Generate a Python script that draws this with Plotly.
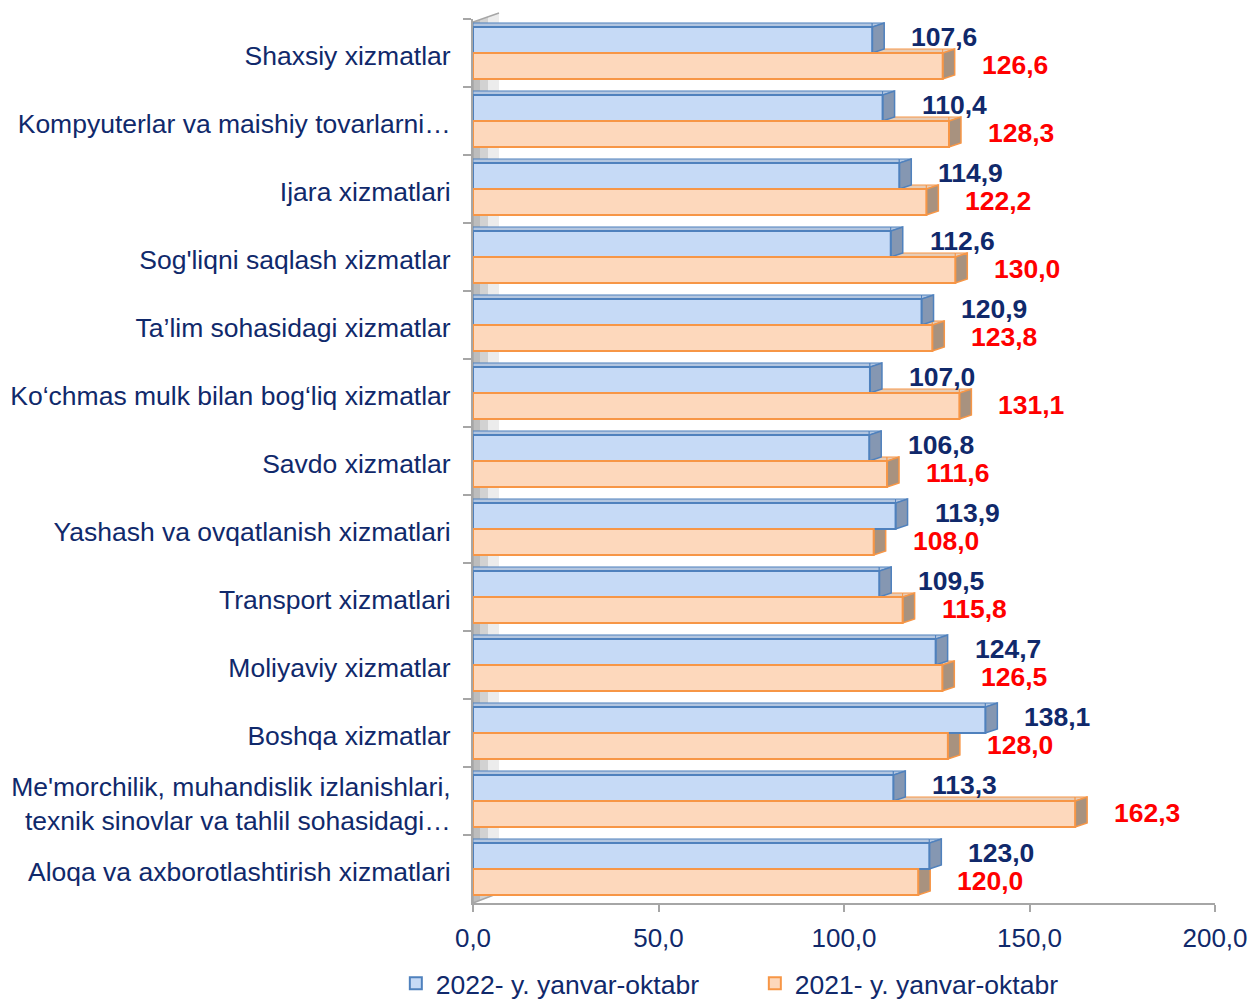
import plotly.graph_objects as go

categories = [
    "Shaxsiy xizmatlar",
    "Kompyuterlar va maishiy tovarlarni…",
    "Ijara xizmatlari",
    "Sog'liqni saqlash xizmatlar",
    "Ta’lim sohasidagi xizmatlar",
    "Ko‘chmas mulk bilan bog‘liq xizmatlar",
    "Savdo xizmatlar",
    "Yashash va ovqatlanish xizmatlari",
    "Transport xizmatlari",
    "Moliyaviy xizmatlar",
    "Boshqa xizmatlar",
    "Me'morchilik, muhandislik izlanishlari,<br>texnik sinovlar va tahlil sohasidagi…",
    "Aloqa va axborotlashtirish xizmatlari",
]
values_2022 = [107.6, 110.4, 114.9, 112.6, 120.9, 107.0, 106.8, 113.9, 109.5, 124.7, 138.1, 113.3, 123.0]
values_2021 = [126.6, 128.3, 122.2, 130.0, 123.8, 131.1, 111.6, 108.0, 115.8, 126.5, 128.0, 162.3, 120.0]
series_names = ["2022- y. yanvar-oktabr", "2021- y. yanvar-oktabr"]
x_ticks = [0, 50, 100, 150, 200]

NAVY = "#10296B"
RED = "#FF0000"
FONT = "Liberation Sans, Arial, sans-serif"

W, H = 1250, 992
M_L, M_R, M_T, M_B = 465, 43, 11, 97
BARGAP = 0.235
plot_h = H - M_T - M_B
band = plot_h / len(categories)
bh = band * (1 - BARGAP) / 2   # pixel thickness of one bar
DX, DY = 12, 4                  # 3-D depth

BLUE_FILL, BLUE_LINE, BLUE_TOP, BLUE_SIDE = "#C6DAF6", "#4F81BD", "#B3C6E0", "#8597B2"
ORNG_FILL, ORNG_LINE, ORNG_TOP, ORNG_SIDE = "#FDD8BC", "#F79646", "#E6CDB8", "#A8927F"

def fmt(v):
    return f"{v:.1f}".replace(".", ",")

fig = go.Figure()
fig.add_trace(go.Bar(
    y=categories, x=values_2022, orientation="h", name=series_names[0],
    marker=dict(color=BLUE_FILL, line=dict(color=BLUE_LINE, width=2)),
))
fig.add_trace(go.Bar(
    y=categories, x=values_2021, orientation="h", name=series_names[1],
    marker=dict(color=ORNG_FILL, line=dict(color=ORNG_LINE, width=2)),
))

# ---- 3-D decoration shapes ----
shapes = []
WALL_W, WALL_TOP_L, WALL_TOP_R, WALL_BOT_R = 26, plot_h - 3, plot_h + 6, 10
strips = [(0, 7, "#BDBDBD"), (7, 15, "#D2D2D2"), (15, 26, "#ECECEC")]
def wy_bot(x):
    return WALL_BOT_R * x / WALL_W
def wy_top(x):
    return WALL_TOP_L + (WALL_TOP_R - WALL_TOP_L) * x / WALL_W
for a, b, col in strips:
    path = (f"M{a},{wy_bot(a):.1f} L{a},{wy_top(a):.1f} L{b},{wy_top(b):.1f} "
            f"L{b},{wy_bot(b):.1f} Z")
    shapes.append(dict(type="path", xref="paper", yref="paper", xsizemode="pixel",
                       ysizemode="pixel", xanchor=0, yanchor=0, path=path,
                       fillcolor=col, line=dict(width=0), layer="below"))
shapes.append(dict(type="path", xref="paper", yref="paper", xsizemode="pixel",
                   ysizemode="pixel", xanchor=0, yanchor=0,
                   path=(f"M0,0 L0,{WALL_TOP_L:.1f} L{WALL_W},{WALL_TOP_R:.1f} "
                         f"M0,0 L{WALL_W},{WALL_BOT_R}"),
                   line=dict(color="#A6A6A6", width=1.5), layer="below"))

def bar_3d(i, v, y_lo, y_hi, top_col, side_col, line_col, x_start=0):
    out = []
    if v > x_start:
        out.append(dict(type="rect", xref="x", yref="y", x0=x_start, x1=v,
                        ysizemode="pixel", yanchor=i, y0=y_hi, y1=y_hi + DY,
                        fillcolor=top_col, line=dict(color=line_col, width=1), layer="below"))
    out.append(dict(type="path", xref="x", yref="y", xsizemode="pixel", ysizemode="pixel",
                    xanchor=v, yanchor=i,
                    path=f"M0,{y_hi:.1f} L{DX},{y_hi + DY:.1f} L0,{y_hi + DY:.1f} Z",
                    fillcolor=top_col, line=dict(color=line_col, width=1), layer="below"))
    out.append(dict(type="path", xref="x", yref="y", xsizemode="pixel", ysizemode="pixel",
                    xanchor=v, yanchor=i,
                    path=(f"M0,{y_lo:.1f} L0,{y_hi:.1f} L{DX},{y_hi + DY:.1f} "
                          f"L{DX},{y_lo + DY:.1f} Z"),
                    fillcolor=side_col, line=dict(color=line_col, width=1.5), layer="below"))
    return out

for i, (vb, vo) in enumerate(zip(values_2022, values_2021)):
    shapes += bar_3d(i, vo, -bh, 0, ORNG_TOP, ORNG_SIDE, ORNG_LINE, x_start=vb)
for i, vb in enumerate(values_2022):
    shapes += bar_3d(i, vb, 0, bh, BLUE_TOP, BLUE_SIDE, BLUE_LINE)

annotations = []
for c, v in zip(categories, values_2022):
    annotations.append(dict(x=v, y=c, xref="x", yref="y", text=fmt(v), showarrow=False,
                            xanchor="left", yanchor="middle", xshift=37, yshift=16,
                            font=dict(family=FONT, size=26.5, color=NAVY, weight="bold")))
for c, v in zip(categories, values_2021):
    annotations.append(dict(x=v, y=c, xref="x", yref="y", text=fmt(v), showarrow=False,
                            xanchor="left", yanchor="middle", xshift=37, yshift=-12,
                            font=dict(family=FONT, size=26.5, color=RED, weight="bold")))

fig.update_layout(
    width=W, height=H,
    margin=dict(l=M_L, r=M_R, t=M_T, b=M_B, autoexpand=False),
    paper_bgcolor="white", plot_bgcolor="white",
    barmode="group", bargap=BARGAP, bargroupgap=0,
    separators=",.",
    font=dict(family=FONT, size=26.5, color=NAVY),
    annotations=annotations,
    shapes=shapes,
    legend=dict(orientation="h", x=-0.104, xanchor="left", y=-0.091, yanchor="middle",
                font=dict(family=FONT, size=26.5, color=NAVY), traceorder="normal",
                itemwidth=30, entrywidth=314, entrywidthmode="pixels"),
    showlegend=True,
)
fig.update_xaxes(range=[0, 200], tickvals=x_ticks, tickformat=".1f", automargin=False,
                 showline=True, linecolor="#A6A6A6", linewidth=2,
                 ticks="outside", ticklen=7, tickcolor="#A6A6A6", tickwidth=2,
                 showgrid=False, zeroline=False, ticklabelstandoff=4,
                 tickfont=dict(family=FONT, size=26, color=NAVY))
fig.update_yaxes(autorange="reversed", automargin=False,
                 showline=True, linecolor="#A6A6A6", linewidth=2,
                 ticks="outside", tickson="boundaries", ticklen=8, tickcolor="#A6A6A6",
                 tickwidth=2, showgrid=False, ticklabelstandoff=15, ticklabelshift=-3,
                 tickfont=dict(family=FONT, size=26.5, color=NAVY))

fig.write_html("out.html")
